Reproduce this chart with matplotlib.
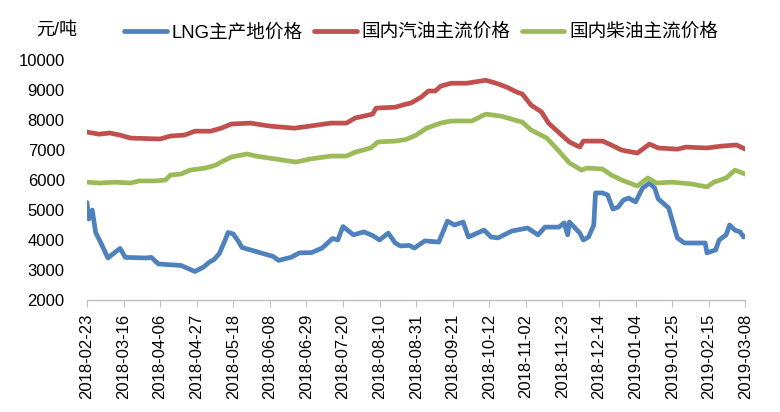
import pandas as pd
import matplotlib
matplotlib.use('Agg')
import matplotlib.pyplot as plt
import matplotlib.dates as mdates

lng_dates = ['2018-02-23', '2018-02-24', '2018-02-26', '2018-02-28', '2018-03-03', '2018-03-07',
             '2018-03-14', '2018-03-17', '2018-03-29', '2018-04-01', '2018-04-05', '2018-04-18',
             '2018-04-26', '2018-05-01', '2018-05-04', '2018-05-07', '2018-05-10', '2018-05-13',
             '2018-05-15', '2018-05-18', '2018-05-21', '2018-05-23', '2018-05-29', '2018-06-04',
             '2018-06-10', '2018-06-13', '2018-06-20', '2018-06-25', '2018-07-02', '2018-07-08',
             '2018-07-14', '2018-07-17', '2018-07-20', '2018-07-26', '2018-08-01', '2018-08-06',
             '2018-08-10', '2018-08-15', '2018-08-19', '2018-08-22', '2018-08-27', '2018-08-30',
             '2018-09-05', '2018-09-13', '2018-09-18', '2018-09-22', '2018-09-27', '2018-09-30',
             '2018-10-09', '2018-10-13', '2018-10-17', '2018-10-25', '2018-11-03', '2018-11-09',
             '2018-11-13', '2018-11-21', '2018-11-24', '2018-11-26', '2018-11-27', '2018-12-03',
             '2018-12-05', '2018-12-08', '2018-12-11', '2018-12-12', '2018-12-16', '2018-12-19',
             '2018-12-22', '2018-12-25', '2018-12-28', '2018-12-31', '2019-01-04', '2019-01-08',
             '2019-01-12', '2019-01-15', '2019-01-17', '2019-01-23', '2019-01-28', '2019-02-01',
             '2019-02-13', '2019-02-14', '2019-02-19', '2019-02-21', '2019-02-25', '2019-02-27',
             '2019-03-02', '2019-03-05', '2019-03-07', '2019-03-08']
lng_price = [5250, 4700, 5000, 4250, 3900, 3400,
             3720, 3420, 3400, 3420, 3200, 3150,
             2950, 3100, 3250, 3350, 3550, 3950,
             4250, 4200, 3950, 3750, 3650, 3550,
             3450, 3320, 3420, 3570, 3580, 3730,
             4050, 4000, 4450, 4170, 4270, 4150,
             4000, 4230, 3900, 3800, 3820, 3730,
             3970, 3930, 4630, 4500, 4600, 4100,
             4330, 4100, 4070, 4300, 4400, 4170,
             4430, 4430, 4570, 4170, 4600, 4230,
             4000, 4100, 4500, 5570, 5570, 5500,
             5030, 5100, 5330, 5400, 5270, 5730,
             5900, 5730, 5370, 5070, 4070, 3900,
             3900, 3570, 3670, 4000, 4170, 4500,
             4330, 4270, 4100, 4130]

gas_dates = ['2018-02-23', '2018-03-02', '2018-03-08', '2018-03-14', '2018-03-20', '2018-04-06',
             '2018-04-12', '2018-04-20', '2018-04-26', '2018-05-05', '2018-05-11', '2018-05-17',
             '2018-05-28', '2018-06-08', '2018-06-22', '2018-07-01', '2018-07-13', '2018-07-22',
             '2018-07-27', '2018-08-06', '2018-08-08', '2018-08-19', '2018-08-25', '2018-08-28',
             '2018-09-03', '2018-09-07', '2018-09-11', '2018-09-14', '2018-09-20', '2018-09-29',
             '2018-10-10', '2018-10-16', '2018-10-22', '2018-10-28', '2018-10-31', '2018-11-05',
             '2018-11-11', '2018-11-15', '2018-11-22', '2018-11-27', '2018-12-03', '2018-12-05',
             '2018-12-16', '2018-12-21', '2018-12-27', '2019-01-05', '2019-01-12', '2019-01-17',
             '2019-01-28', '2019-02-02', '2019-02-14', '2019-02-22', '2019-03-03', '2019-03-08']
gas_price = [7600, 7530, 7570, 7500, 7400, 7370,
             7470, 7500, 7630, 7630, 7730, 7870,
             7900, 7800, 7730, 7800, 7900, 7900,
             8070, 8200, 8400, 8430, 8530, 8570,
             8770, 8970, 8970, 9130, 9230, 9230,
             9330, 9230, 9100, 8930, 8870, 8500,
             8270, 7900, 7530, 7270, 7100, 7300,
             7300, 7170, 7000, 6900, 7200, 7070,
             7030, 7100, 7070, 7130, 7170, 7030]

diesel_dates = ['2018-02-23', '2018-03-02', '2018-03-11', '2018-03-20', '2018-03-25', '2018-04-03',
                '2018-04-09', '2018-04-12', '2018-04-18', '2018-04-23', '2018-05-02', '2018-05-08',
                '2018-05-12', '2018-05-17', '2018-05-26', '2018-05-31', '2018-06-08', '2018-06-15',
                '2018-06-23', '2018-07-01', '2018-07-13', '2018-07-22', '2018-07-27', '2018-08-05',
                '2018-08-09', '2018-08-19', '2018-08-25', '2018-08-31', '2018-09-06', '2018-09-14',
                '2018-09-20', '2018-10-02', '2018-10-10', '2018-10-19', '2018-10-25', '2018-10-31',
                '2018-11-05', '2018-11-14', '2018-11-20', '2018-11-27', '2018-12-04', '2018-12-07',
                '2018-12-16', '2018-12-21', '2018-12-27', '2019-01-05', '2019-01-11', '2019-01-16',
                '2019-01-25', '2019-02-05', '2019-02-14', '2019-02-18', '2019-02-25', '2019-03-02',
                '2019-03-08']
diesel_price = [5930, 5900, 5930, 5900, 5970, 5970,
                6000, 6170, 6200, 6330, 6400, 6500,
                6630, 6770, 6870, 6800, 6730, 6670,
                6600, 6700, 6800, 6800, 6930, 7070,
                7270, 7300, 7350, 7500, 7730, 7900,
                7970, 7970, 8200, 8130, 8030, 7930,
                7670, 7400, 7030, 6570, 6330, 6400,
                6370, 6170, 6000, 5800, 6070, 5900,
                5930, 5870, 5770, 5930, 6070, 6330,
                6200]

tick_dates = pd.date_range('2018-02-23', '2019-03-08', freq='21D')

plt.rcParams['font.family'] = ['Liberation Sans', 'Noto Sans CJK SC']

fig = plt.figure(figsize=(7.8, 4.12), dpi=100)
ax = fig.add_axes([0.1115, 0.272, 0.844, 0.582])

style = dict(lw=3.4, solid_capstyle='round', solid_joinstyle='round')
ax.plot(pd.to_datetime(lng_dates), lng_price, color='#4F81BD', label='LNG主产地价格', **style)
ax.plot(pd.to_datetime(gas_dates), gas_price, color='#C0504D', label='国内汽油主流价格', **style)
ax.plot(pd.to_datetime(diesel_dates), diesel_price, color='#9BBB59', label='国内柴油主流价格', **style)

ax.set_xlim(tick_dates[0], tick_dates[-1])
ax.set_ylim(2000, 10000)
ax.set_yticks(range(2000, 10001, 1000))
ax.set_xticks(tick_dates)
ax.xaxis.set_major_formatter(mdates.DateFormatter('%Y-%m-%d'))
ax.tick_params(axis='x', rotation=90, labelsize=12, length=5, color='#BFBFBF', pad=5)
ax.tick_params(axis='y', labelsize=12, length=0, pad=16)

for side in ['top', 'right', 'left']:
    ax.spines[side].set_visible(False)
ax.spines['bottom'].set_color('#BFBFBF')
ax.spines['bottom'].set_linewidth(1)

fig.text(0.072, 0.927, '元/吨', fontsize=13, ha='center', va='center')
fig.legend(loc='center', bbox_to_anchor=(0.54, 0.922), ncol=3, frameon=False,
           fontsize=13.4, handlelength=2.3, handletextpad=0.25, columnspacing=0.6)

fig.savefig('out.png', dpi=100)
